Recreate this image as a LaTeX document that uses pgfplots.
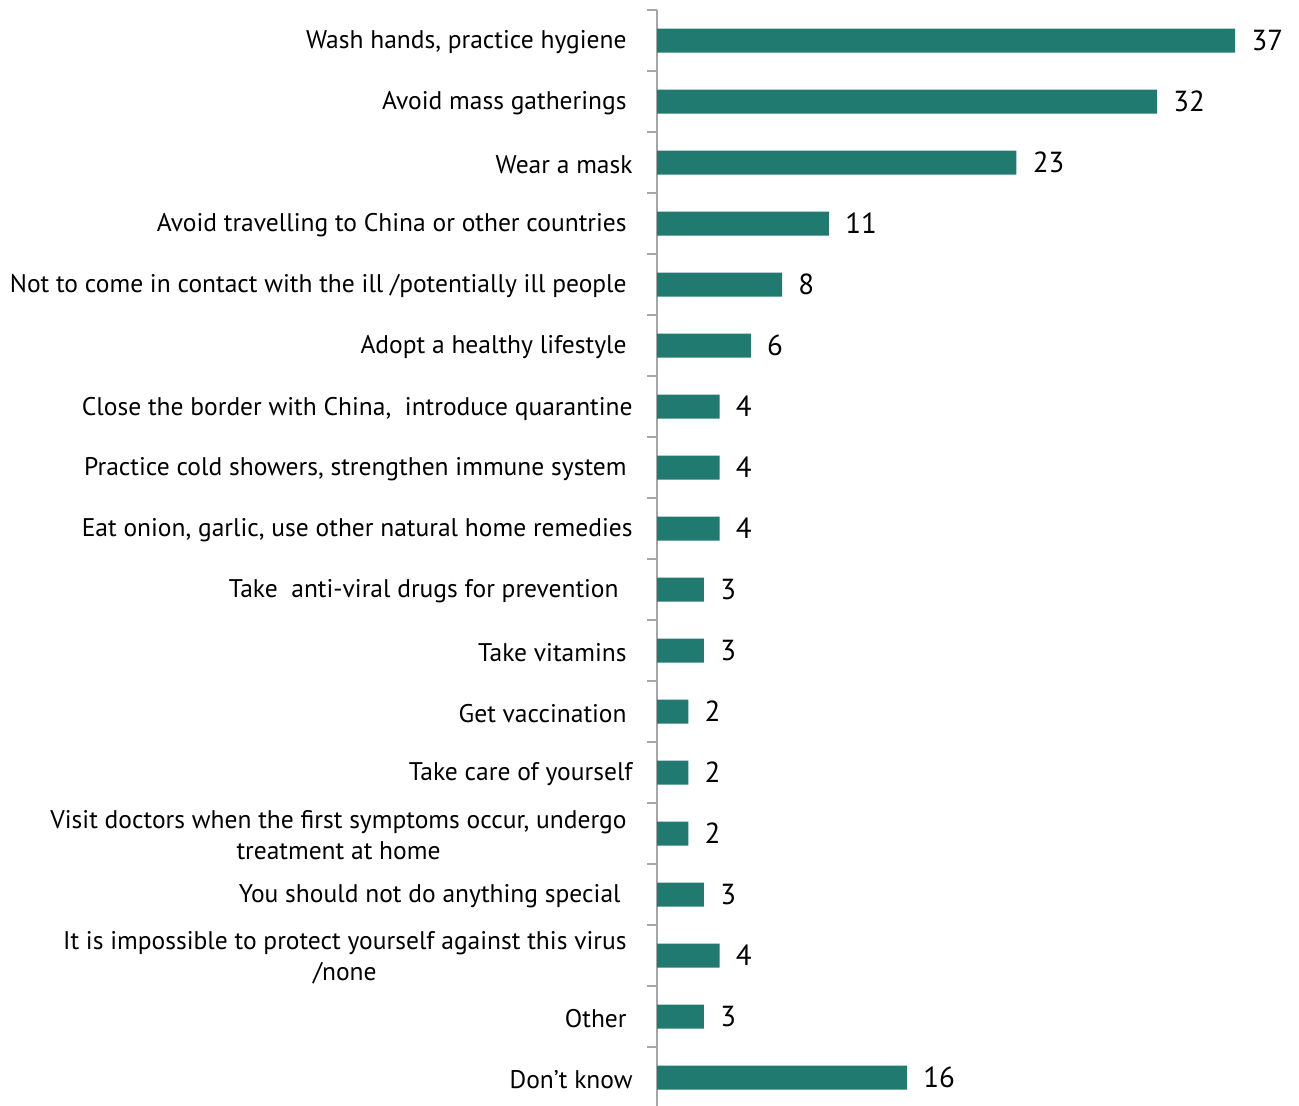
\documentclass[border=0pt]{standalone}
\usepackage{fontspec}
\setmainfont{PT Sans}
\usepackage{pgfplots}
\pgfplotsset{compat=1.18}
\definecolor{barc}{HTML}{217A70}
\definecolor{axc}{HTML}{A6A6A6}
\begin{document}
\begin{tikzpicture}
\path[use as bounding box] (0,0) rectangle (649.5pt,-553pt);
\begin{axis}[
  at={(328.5pt,-5pt)}, anchor=north west,
  x=7.8125pt, y=30.5pt, y dir=reverse,
  xbar, bar width=12pt,
  xmin=0, xmax=41, ymin=-0.5, ymax=17.5,
  hide x axis,
  axis y line*=left,
  y axis line style={draw=axc, line width=0.8pt},
  ytick={0,...,17},
  major tick length=0pt,
  minor ytick={-0.5,0.5,...,17.5},
  minor tick length=5pt,
  tick align=outside,
  minor tick style={draw=axc, line width=0.8pt},
  yticklabel style={font=\fontsize{12.75}{15.5}\selectfont, align=center, inner xsep=0pt, xshift=-12pt, yshift=-1pt},
  yticklabels={
    {Wash hands, practice hygiene\hspace*{3pt}},
    {Avoid mass gatherings\hspace*{3pt}},
    {Wear a mask},
    {Avoid travelling to China or other countries\hspace*{3pt}},
    {Not to come in contact with the ill /potentially ill people\hspace*{3pt}},
    {Adopt a healthy lifestyle\hspace*{3pt}},
    {Close the border with China,~ introduce quarantine},
    {Practice cold showers, strengthen immune system\hspace*{3pt}},
    {Eat onion, garlic, use other natural home remedies},
    {Take~ anti-viral drugs for prevention\hspace*{7pt}},
    {Take vitamins\hspace*{3pt}},
    {Get vaccination\hspace*{3pt}},
    {Take care of yourself},
    {Visit doctors when the first symptoms occur, undergo\hspace*{3pt}\\treatment at home\hspace*{3pt}},
    {You should not do anything special\hspace*{6pt}},
    {It is impossible to protect yourself against this virus\hspace*{3pt}\\/none\hspace*{3pt}},
    {Other\hspace*{3pt}},
    {Don’t know}
  },
  nodes near coords,
  point meta=x,
  nodes near coords style={font=\fontsize{14.5}{16}\selectfont, anchor=west, inner xsep=0pt, xshift=8pt,
    /pgf/number format/assume math mode=true},
  clip=false,
]
\addplot[fill=barc, draw=none] coordinates {
  (37,0) (32,1) (23,2) (11,3) (8,4) (6,5) (4,6) (4,7) (4,8)
  (3,9) (3,10) (2,11) (2,12) (2,13) (3,14) (4,15) (3,16) (16,17)
};
\end{axis}
\end{tikzpicture}
\end{document}
